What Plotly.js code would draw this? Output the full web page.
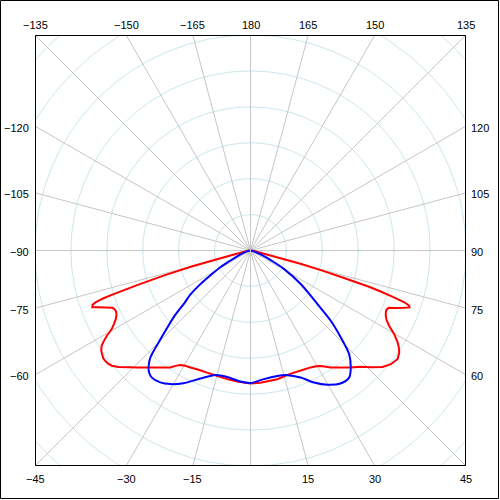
<!DOCTYPE html>
<html>
<head>
<meta charset="utf-8">
<script src="https://cdn.plot.ly/plotly-3.0.1.min.js"></script>
<style>
  html, body { margin: 0; padding: 0; background: #fff; }
  #chart { width: 500px; height: 500px; }
</style>
</head>
<body>
<div id="chart"></div>
<script>
// ---- data (gamma angle in degrees, 0 = straight down; intensity in grid units) ----
const redAngles = [-90, -80, -76, -74.8, -73.9, -73, -72.3, -72, -71.5, -71, -70.3, -69.5, -68.5, -67.5, -66.5, -65.5, -64.3, -63, -61.7, -60.5, -59.3, -58.3, -57.4, -56.2, -55.1, -53.8, -52.8, -51.4, -50.3, -48.6, -46, -44, -42, -40, -38, -36, -34.4, -33, -31.5, -29.5, -27.2, -23.5, -19.6, -15, -10.3, -5.8, 0,
  4.3, 8, 11.8, 15.5, 19.6, 23.5, 27.2, 29.5, 31.3, 33, 34.4, 37, 40.6, 43.5, 46, 48.6, 51, 53.6, 55.6, 57, 58, 59.8, 61.5, 63, 64.3, 65.5, 66.5, 67.5, 68.5, 69.5, 70.3, 70.8, 71.4, 72, 72.5, 73, 73.5, 74.3, 75.1, 76, 80, 90];
const redValues = [0.02, 0.15, 0.58, 1.7, 2.5, 3.3, 4.0, 4.3, 4.55, 4.65, 4.68, 4.52, 4.33, 4.16, 4.12, 4.11, 4.14, 4.21, 4.32, 4.44, 4.65, 4.80, 4.92, 5.0, 5.04, 5.08, 5.08, 5.06, 5.02, 4.90, 4.68, 4.53, 4.38, 4.25, 4.13, 4.03, 3.95, 3.83, 3.74, 3.69, 3.66, 3.62, 3.61, 3.61, 3.64, 3.67, 3.70,
  3.69, 3.67, 3.66, 3.62, 3.61, 3.63, 3.66, 3.70, 3.76, 3.86, 3.95, 4.08, 4.29, 4.46, 4.68, 4.90, 5.03, 5.09, 5.02, 4.92, 4.83, 4.63, 4.39, 4.25, 4.18, 4.14, 4.13, 4.17, 4.36, 4.55, 4.70, 4.68, 4.52, 4.15, 3.8, 3.45, 2.8, 2.1, 1.44, 0.6, 0.15, 0.02];

const blueAngles = [-90, -80, -71, -66, -63.4, -61, -58.2, -56, -53.7, -51.5, -49.5, -47.5, -45.5, -43.1, -41.1, -39.5, -37.8, -34.4, -31, -26.8, -21.4, -15.7, -10.5, -4.4, 0,
  5.9, 12, 16.5, 21.5, 25.7, 29.8, 34.1, 37.8, 40.6, 43.6, 46.1, 48.8, 51.4, 56.3, 61.2, 64.5, 67, 71, 80, 90];
const blueValues = [0.02, 0.06, 0.2, 0.42, 0.62, 0.96, 1.32, 1.7, 2.08, 2.35, 2.75, 3.1, 3.5, 4.08, 4.32, 4.43, 4.48, 4.45, 4.34, 4.14, 3.83, 3.60, 3.58, 3.66, 3.69,
  3.60, 3.57, 3.62, 3.80, 4.08, 4.31, 4.47, 4.48, 4.29, 3.98, 3.49, 2.97, 2.38, 1.68, 1.06, 0.62, 0.42, 0.2, 0.06, 0.02];

// ---- grid / labels ----
const circleRadii = [1, 2, 3, 4, 5, 6, 7, 8];
const spokeAngles = [];
for (let a = -180; a < 180; a += 15) spokeAngles.push(a);
const labelAngles = [-135, -150, -165, 180, 165, 150, 135, -120, -105, -90, -75, -60, 120, 105, 90, 75, 60, -45, -30, -15, 15, 30, 45];
const labelTexts = ['\u2212135', '\u2212150', '\u2212165', '180', '165', '150', '135', '\u2212120', '\u2212105', '\u221290', '\u221275', '\u221260', '120', '105', '90', '75', '60', '\u221245', '\u221230', '\u221215', '15', '30', '45'];

const R = 6;           // half-width of the square in grid units
const PW = 431;        // plot width in px
const ML = 35, MT = 35;
const circleColor = '#cce6ee';
const spokeColor = '#c6c6c6';

const shapes = [];
circleRadii.forEach(k => shapes.push({
  type: 'circle', xref: 'x', yref: 'y', x0: -k, x1: k, y0: -k, y1: k,
  line: {color: circleColor, width: 1}, layer: 'below'
}));
spokeAngles.forEach(a => {
  const t = a * Math.PI / 180;
  shapes.push({
    type: 'line', xref: 'x', yref: 'y', x0: 0, y0: 0,
    x1: 20 * Math.sin(t), y1: -20 * Math.cos(t),
    line: {color: spokeColor, width: 1}, layer: 'below'
  });
});
// plot area frame
shapes.push({type: 'rect', xref: 'paper', yref: 'paper',
  x0: 0.5 / PW, x1: 1 - 0.5 / PW, y0: 0.5 / PW, y1: 1 - 0.5 / PW,
  line: {color: '#000', width: 1}, layer: 'above'});
// figure frame
shapes.push({type: 'rect', xref: 'paper', yref: 'paper',
  x0: (0.5 - ML) / PW, x1: (498.5 - ML) / PW,
  y0: (ML + PW - 498.5) / PW, y1: (ML + PW - 0.5) / PW,
  line: {color: '#000', width: 1}, layer: 'above'});

const annotations = labelAngles.map((a, i) => {
  const t = a * Math.PI / 180;
  const ux = Math.sin(t), uy = Math.cos(t);   // uy: downward positive
  const m = Math.max(Math.abs(ux), Math.abs(uy));
  const px = ux / m, py = uy / m;
  const ann = {text: labelTexts[i], showarrow: false, xref: 'paper', yref: 'paper',
    font: {family: 'Liberation Sans, Arial, sans-serif', size: 11, color: '#000'}};
  if (Math.abs(py) >= Math.abs(px) - 1e-9) {
    ann.x = (px + 1) / 2; ann.xanchor = 'center'; ann.yanchor = 'middle';
    if (py < 0) { ann.y = 1; ann.yshift = 10; } else { ann.y = 0; ann.yshift = -12.5; }
  } else {
    ann.y = (1 - py) / 2; ann.yanchor = 'middle'; ann.yshift = -1.5;
    if (px < 0) { ann.x = 0; ann.xanchor = 'right'; ann.xshift = -4; }
    else { ann.x = 1; ann.xanchor = 'left'; ann.xshift = 3; }
  }
  return ann;
});

const traces = [
  {type: 'scatter', x: [], y: [], xaxis: 'x', yaxis: 'y', showlegend: false, hoverinfo: 'skip'},
  {type: 'scatterpolar', theta: redAngles, r: redValues, mode: 'lines', thetaunit: 'degrees',
   line: {color: '#ff0000', width: 2}, showlegend: false, hoverinfo: 'skip'},
  {type: 'scatterpolar', theta: blueAngles, r: blueValues, mode: 'lines', thetaunit: 'degrees',
   line: {color: '#0000ff', width: 2, shape: 'spline', smoothing: 0.8}, showlegend: false, hoverinfo: 'skip'}
];

const axisCommon = {range: [-R, R], showgrid: false, zeroline: false, showticklabels: false,
  ticks: '', showline: false, fixedrange: true};

const layout = {
  width: 500, height: 500,
  margin: {l: ML, r: 500 - ML - PW, t: MT, b: 500 - MT - PW, pad: 0},
  paper_bgcolor: '#fff', plot_bgcolor: '#fff',
  showlegend: false,
  xaxis: Object.assign({}, axisCommon),
  yaxis: Object.assign({}, axisCommon),
  polar: {
    domain: {x: [0, 1], y: [0, 1]},
    bgcolor: 'rgba(0,0,0,0)',
    radialaxis: {range: [0, R], showgrid: false, showline: false, showticklabels: false, ticks: ''},
    angularaxis: {rotation: -90, direction: 'counterclockwise', showgrid: false, showline: false,
      showticklabels: false, ticks: ''}
  },
  shapes: shapes,
  annotations: annotations
};

Plotly.newPlot('chart', traces, layout, {staticPlot: true, displayModeBar: false});
</script>
</body>
</html>
